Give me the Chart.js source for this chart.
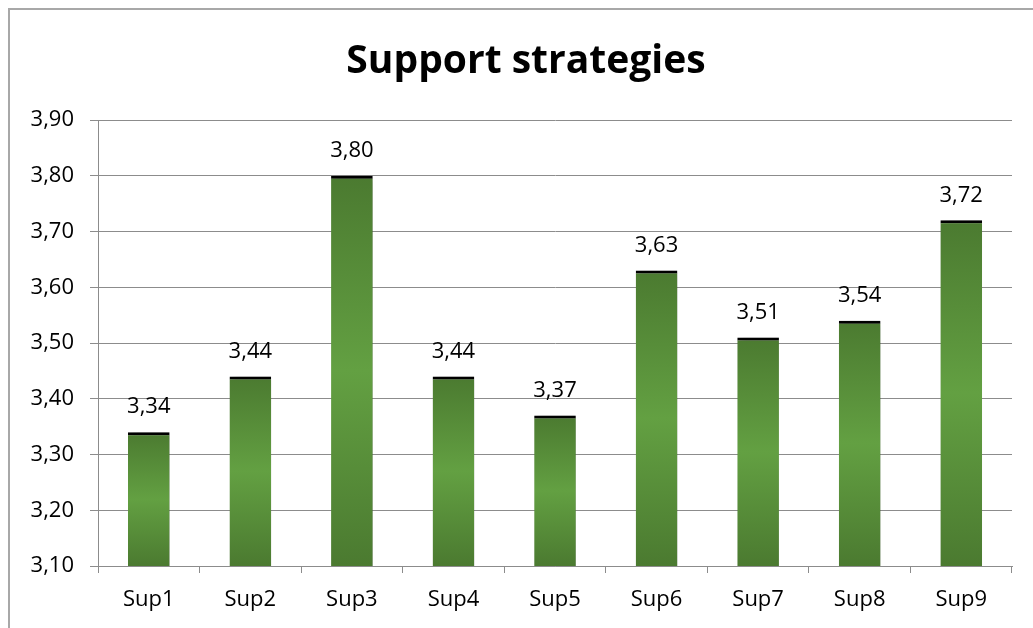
<!DOCTYPE html>
<html>
<head>
<meta charset="utf-8">
<script src="https://cdn.jsdelivr.net/npm/chart.js@4"></script>
<style>
  html, body { margin: 0; padding: 0; background: #fff; overflow: hidden; }
  #frame {
    position: absolute; left: 8px; top: 8px;
    width: 1025px; height: 620px;
    border-top: 2px solid #a8a8a8; border-left: 2px solid #a8a8a8;
  }
  #wrap { position: absolute; left: 0; top: 0; width: 1023px; height: 618px; }
</style>
</head>
<body>
<div id="frame"><div id="wrap"><canvas id="sup"></canvas></div></div>
<script>
var categories = ["Sup1", "Sup2", "Sup3", "Sup4", "Sup5", "Sup6", "Sup7", "Sup8", "Sup9"];
var means = [3.34, 3.44, 3.80, 3.44, 3.37, 3.63, 3.51, 3.54, 3.72];
var yMin = 3.10, yMax = 3.90, yStep = 0.10;

var fonts = "'Open Sans', 'Noto Sans', sans-serif";

function comma(v) { return v.toFixed(2).replace(".", ","); }

// vertical gradient per bar: dark at the ends, lighter in the middle
function barFill(c) {
  var chart = c.chart;
  if (!chart.chartArea || c.dataIndex === undefined) return "#5a913b";
  var y = chart.scales.y;
  var top = y.getPixelForValue(means[c.dataIndex]), bot = y.getPixelForValue(yMin);
  if (!isFinite(top) || !isFinite(bot) || bot - top < 1) return "#5a913b";
  var g = chart.ctx.createLinearGradient(0, top, 0, bot);
  g.addColorStop(0, "#4b7a30");
  g.addColorStop(0.5, "#63a042");
  g.addColorStop(1, "#4b7a30");
  return g;
}

var titleAndLabels = {
  id: "titleAndLabels",
  beforeDatasetsDraw: function(chart) {
    var ctx = chart.ctx;
    ctx.save();
    ctx.shadowColor = "rgba(0,0,0,0.35)";
    ctx.shadowBlur = 6;
    ctx.shadowOffsetX = 3;
    ctx.shadowOffsetY = 1;
  },
  afterDatasetsDraw: function(chart) {
    var ctx = chart.ctx;
    ctx.restore();
    ctx.save();
    ctx.fillStyle = "#000";
    ctx.font = "bold 39px " + fonts;
    ctx.textAlign = "center";
    ctx.textBaseline = "middle";
    ctx.fillText("Support strategies", 516, 52);

    ctx.font = "22px " + fonts;
    ctx.textBaseline = "middle";
    chart.getDatasetMeta(0).data.forEach(function(bar, i) {
      ctx.fillText(comma(means[i]), bar.x, bar.y - 25);
    });
    ctx.restore();
  }
};

var ctx = document.getElementById("sup").getContext("2d");
new Chart(ctx, {
  type: "bar",
  data: {
    labels: categories,
    datasets: [{
      data: means,
      backgroundColor: barFill,
      borderColor: "#000",
      borderWidth: { top: 3, left: 0, right: 0, bottom: 0 },
      borderSkipped: "bottom",
      categoryPercentage: 1,
      barPercentage: 0.41
    }]
  },
  options: {
    responsive: true,
    maintainAspectRatio: false,
    animation: false,
    layout: { padding: { top: 110, right: 21, bottom: 0, left: 0 } },
    plugins: { legend: { display: false }, title: { display: false }, tooltip: { enabled: false } },
    scales: {
      x: {
        grid: { offset: true, drawOnChartArea: false, drawTicks: true, tickLength: 7, color: "#8c8c8c" },
        border: { color: "#8c8c8c" },
        ticks: { color: "#000", font: { family: fonts, size: 22 }, padding: 14 },
        afterFit: function(s) { s.height = 62; }
      },
      y: {
        min: yMin, max: yMax,
        grid: { color: "#8c8c8c", tickLength: 8 },
        border: { color: "#8c8c8c" },
        ticks: { stepSize: yStep, color: "#000", font: { family: fonts, size: 22 }, padding: 16,
                 callback: function(v) { return comma(v); } },
        afterFit: function(s) { s.width = 88; }
      }
    }
  },
  plugins: [titleAndLabels]
});
</script>
</body>
</html>
